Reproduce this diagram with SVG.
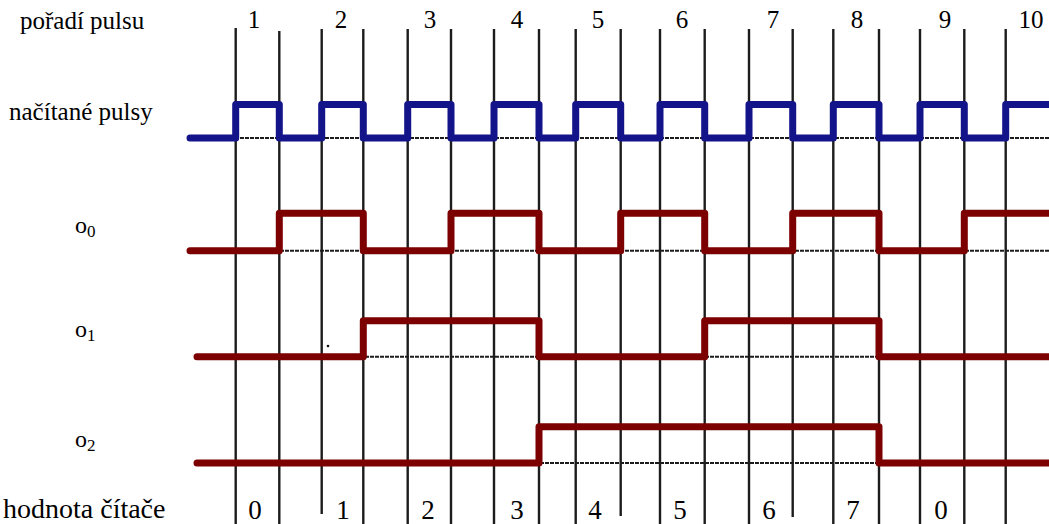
<svg xmlns="http://www.w3.org/2000/svg" width="1049" height="524" viewBox="0 0 1049 524">
<style>
.num{text-anchor:middle}
.grid{stroke:#1c1c1c;stroke-width:2.4;fill:none}
.base{stroke:#1c1c1c;stroke-width:2;stroke-dasharray:4 1;fill:none}
.blue{stroke:#13138a;stroke-width:7;fill:none;stroke-linecap:round;stroke-linejoin:round}
.red{stroke:#7d0000;stroke-width:7;fill:none;stroke-linecap:round;stroke-linejoin:round}
</style>
<rect width="1049" height="524" fill="#fff"/>
<g id="grid">
<line class="grid" x1="235.7" y1="28" x2="235.7" y2="524"/>
<line class="grid" x1="279.3" y1="31" x2="279.3" y2="524"/>
<line class="grid" x1="321.7" y1="29" x2="321.7" y2="514"/>
<line class="grid" x1="363.3" y1="29" x2="363.3" y2="524"/>
<line class="grid" x1="407.7" y1="29" x2="407.7" y2="524"/>
<line class="grid" x1="451" y1="29" x2="451" y2="524"/>
<line class="grid" x1="494" y1="29" x2="494" y2="524"/>
<line class="grid" x1="539" y1="29" x2="539" y2="524"/>
<line class="grid" x1="575.7" y1="29" x2="575.7" y2="524"/>
<line class="grid" x1="620.7" y1="29" x2="620.7" y2="516"/>
<line class="grid" x1="660" y1="29" x2="660" y2="524"/>
<line class="grid" x1="704.7" y1="29" x2="704.7" y2="524"/>
<line class="grid" x1="749" y1="29" x2="749" y2="524"/>
<line class="grid" x1="792.7" y1="29" x2="792.7" y2="517"/>
<line class="grid" x1="833.3" y1="29" x2="833.3" y2="524"/>
<line class="grid" x1="879" y1="29" x2="879" y2="524"/>
<line class="grid" x1="920" y1="29" x2="920" y2="524"/>
<line class="grid" x1="964.3" y1="29" x2="964.3" y2="524"/>
<line class="grid" x1="1005.7" y1="29" x2="1005.7" y2="524"/>
<line class="base" x1="230" y1="138" x2="1049" y2="138"/>
<line class="base" x1="230" y1="250.7" x2="1049" y2="250.7"/>
<line class="base" x1="230" y1="356.7" x2="1049" y2="356.7"/>
<line class="base" x1="230" y1="463" x2="1049" y2="463"/>
<circle cx="328" cy="346" r="1.3" fill="#111"/>
</g>
<g id="labels">
<text x="20" y="29" font-family="'Liberation Serif', serif" font-size="25">pořadí pulsu</text>
<text x="9" y="120" font-family="'Liberation Serif', serif" font-size="25">načítané pulsy</text>
<text x="75" y="233" font-family="'Liberation Serif', serif" font-size="24">o<tspan font-size="17" dy="4">0</tspan></text>
<text x="75" y="337" font-family="'Liberation Serif', serif" font-size="24">o<tspan font-size="17" dy="4">1</tspan></text>
<text x="75" y="447" font-family="'Liberation Serif', serif" font-size="24">o<tspan font-size="17" dy="4">2</tspan></text>
<text x="3" y="518" font-family="'Liberation Serif', serif" font-size="28">hodnota čítače</text>
</g>
<g id="pulse-numbers">
<text class="num" x="254" y="28" font-family="'Liberation Serif', serif" font-size="25">1</text>
<text class="num" x="341" y="28" font-family="'Liberation Serif', serif" font-size="25">2</text>
<text class="num" x="430" y="28" font-family="'Liberation Serif', serif" font-size="25">3</text>
<text class="num" x="517" y="28" font-family="'Liberation Serif', serif" font-size="25">4</text>
<text class="num" x="598" y="28" font-family="'Liberation Serif', serif" font-size="25">5</text>
<text class="num" x="682" y="28" font-family="'Liberation Serif', serif" font-size="25">6</text>
<text class="num" x="773" y="28" font-family="'Liberation Serif', serif" font-size="25">7</text>
<text class="num" x="857" y="28" font-family="'Liberation Serif', serif" font-size="25">8</text>
<text class="num" x="945" y="28" font-family="'Liberation Serif', serif" font-size="25">9</text>
<text class="num" x="1031" y="28" font-family="'Liberation Serif', serif" font-size="25">10</text>
</g>
<g id="counter-values">
<text class="num" x="255" y="519" font-family="'Liberation Serif', serif" font-size="27">0</text>
<text class="num" x="343" y="519" font-family="'Liberation Serif', serif" font-size="27">1</text>
<text class="num" x="428" y="519" font-family="'Liberation Serif', serif" font-size="27">2</text>
<text class="num" x="517" y="519" font-family="'Liberation Serif', serif" font-size="27">3</text>
<text class="num" x="595" y="519" font-family="'Liberation Serif', serif" font-size="27">4</text>
<text class="num" x="680" y="519" font-family="'Liberation Serif', serif" font-size="27">5</text>
<text class="num" x="769" y="519" font-family="'Liberation Serif', serif" font-size="27">6</text>
<text class="num" x="853" y="519" font-family="'Liberation Serif', serif" font-size="27">7</text>
<text class="num" x="941" y="519" font-family="'Liberation Serif', serif" font-size="27">0</text>
</g>
<g id="connectors">
<path id="clk" class="blue" d="M190,138 H235.7 V104.5 H279.3 V138 H321.7 V104.5 H363.3 V138 H407.7 V104.5 H451 V138 H494 V104.5 H539 V138 H575.7 V104.5 H620.7 V138 H660 V104.5 H704.7 V138 H749 V104.5 H792.7 V138 H833.3 V104.5 H879 V138 H920 V104.5 H964.3 V138 H1005.7 V104.5 H1052"/>
<path id="o0" class="red" d="M190,250.7 H279.3 V213.3 H363.3 V250.7 H451 V213.3 H539 V250.7 H620.7 V213.3 H704.7 V250.7 H792.7 V213.3 H879 V250.7 H964.3 V213.3 H1052"/>
<path id="o1" class="red" d="M197,356.7 H363.3 V320.7 H539 V356.7 H704.7 V320.7 H879 V356.7 H1052"/>
<path id="o2" class="red" d="M197,463 H539 V426.7 H879 V463 H1052"/>
</g>
</svg>
